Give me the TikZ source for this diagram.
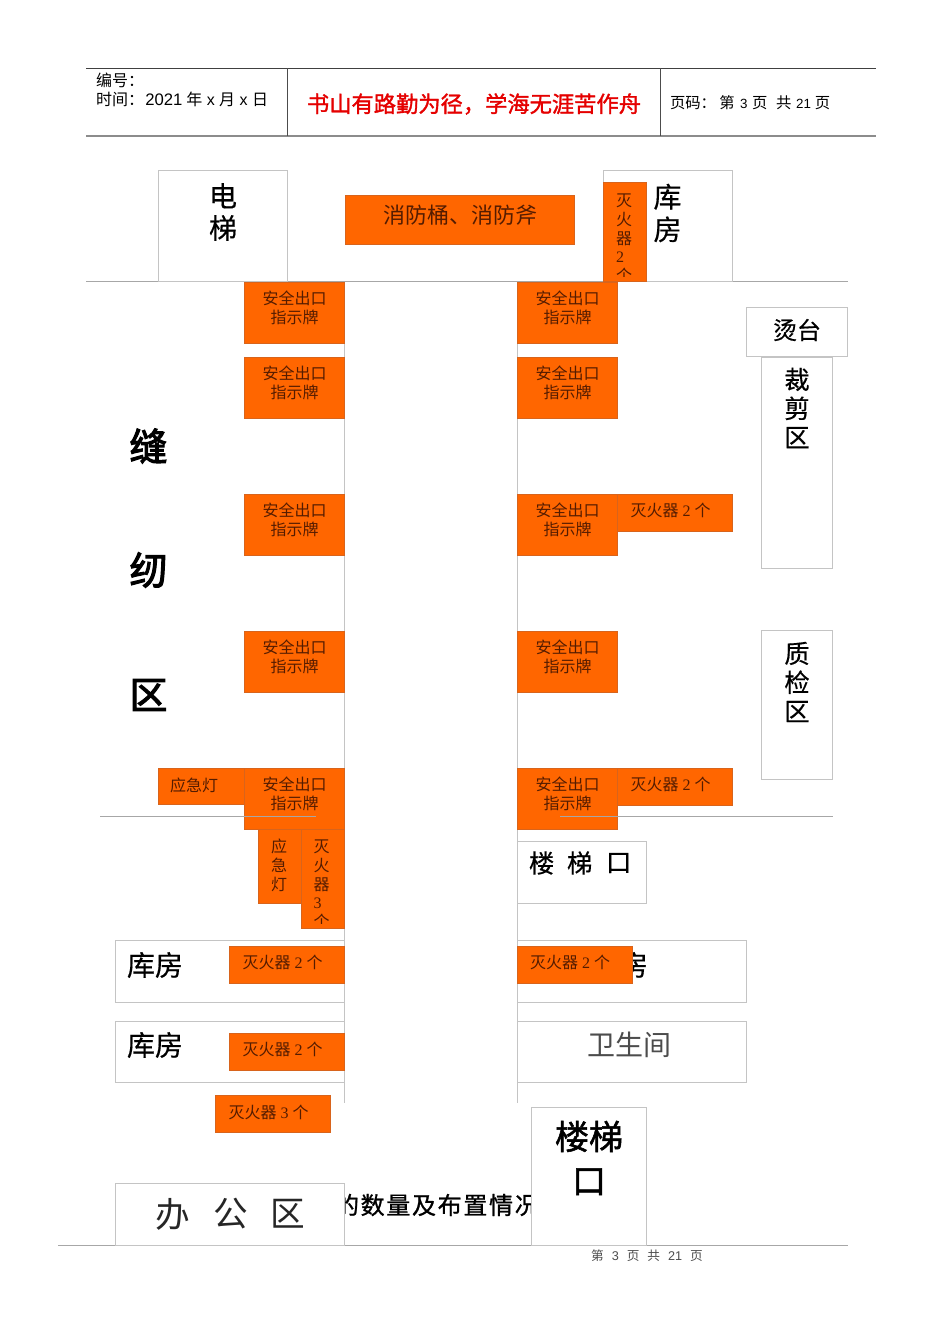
\documentclass[tikz,border=0pt]{standalone}
\usepackage{fontspec}
\setmainfont{Noto Sans CJK SC}
\newfontfamily\ser{Liberation Serif}
\newfontfamily\ari{Liberation Sans}
\newfontfamily\cjkb[FakeBold=1.5]{Noto Sans CJK SC}
\newfontfamily\cjkx[FakeBold=3]{Noto Sans CJK SC}
\newfontfamily\cjkm[FakeBold=0.5]{Noto Sans CJK SC}
\newfontfamily\cjkbs[FakeBold=1,LetterSpace=7]{Noto Sans CJK SC}
\newcommand\pxfont[2]{\fontsize{#1}{#2}\selectfont}
\definecolor{fireorange}{HTML}{FF6600}
\definecolor{orangeedge}{HTML}{D8641C}
\definecolor{boxgray}{HTML}{C4C4C4}
\definecolor{ontext}{HTML}{541C00}
\tikzset{
  x=0.75pt,y=-0.75pt,
  lbl/.style={inner sep=0pt,outer sep=0pt,align=center,text=black},
  onorange/.style={lbl,text=ontext,font=\pxfont{12}{14.2}},
  room/.style={draw=boxgray,fill=white,line width=0.7pt},
  sign/.style={draw=orangeedge,fill=fireorange,line width=0.5pt},
  rule/.style={draw=boxgray!85!black,line width=0.6pt},
  wall/.style={draw=boxgray,line width=0.75pt},
}
\newcommand\exit[3]{% name, left x, top y
  \draw[sign] (#2,#3) rectangle (#2+100.5,#3+61.5);
  \node[onorange] (#1) at (#2+50.5,#3+25.5) {安全出口\\指示牌};
}
\newcommand\extg[4]{% name, left, top, count
  \draw[sign] (#2,#3) rectangle (#2+115,#3+37);
  \node[onorange,anchor=west] (#1) at (#2+13,#3+16.5) {灭火器\hspace{3pt}{\ser #4}\hspace{3pt}个};
}
\begin{document}
\begin{tikzpicture}
\useasboundingbox (0,0) rectangle (950,1344);
\fill[white] (0,0) rectangle (950,1344);

% header
\draw[draw=black!75,line width=0.7pt] (86,68.5) -- (876,68.5);
\draw[draw=black!45,line width=1.1pt] (86,136) -- (876,136);
\draw[draw=black!70,line width=0.7pt] (287.5,68.5) -- (287.5,136);
\draw[draw=black!70,line width=0.7pt] (660.5,68.5) -- (660.5,136);
\node[lbl,anchor=west,font=\pxfont{12}{14.2}] (hno) at (96,80) {编号：};
\node[lbl,anchor=west,font=\pxfont{12}{14.2}] (htime) at (96,99) {时间：\hspace{1pt}{\ari\pxfont{12.5}{14}2021}\hspace{3pt}年\hspace{3.3pt}{\ari x}\hspace{3.3pt}月\hspace{3.3pt}{\ari x}\hspace{3.3pt}日};
\node[lbl,text=red!90!black,font={\cjkb\pxfont{16.7}{20}}] (htitle) at (474,104) {书山有路勤为径，学海无涯苦作舟};
\node[lbl,anchor=west,font=\pxfont{11.5}{14.2}] (hpage) at (670,103) {页码：\hspace{2.5pt}第\hspace{4pt}{\ari\pxfont{10}{12}3}\hspace{3.5pt}页\hspace{6.5pt}共\hspace{3.5pt}{\ari\pxfont{10}{12}21}\hspace{3pt}页};

% rules and corridor walls
\draw[rule] (86,281.5) -- (848,281.5);
\draw[rule] (58,1245) -- (848,1245);
\draw[wall] (344.5,282) -- (344.5,1103);
\draw[wall] (517.5,282) -- (517.5,1103);

% background sentence, partly hidden by the boxes
\node[lbl,anchor=west,font={\cjkbs\pxfont{18}{20}}] (sentence) at (335,1205) {的数量及布置情况};

% top rooms
\draw[room] (158,170) rectangle (287.5,281.5);
\node[lbl,font={\cjkm\pxfont{21}{24}}] (lift) at (223,212) {电\\梯};
\draw[sign] (345,195) rectangle (574.5,244.5);
\node[lbl,text=ontext,font=\pxfont{16.5}{20}] (bucket) at (460,215) {消防桶、消防斧};
\draw[room] (603,170) rectangle (732.5,281.5);
\node[lbl,font={\cjkm\pxfont{21}{24.5}}] (store1) at (667.5,213) {库\\房};
\draw[sign] (603.5,182) rectangle (646.5,281.5);
\begin{scope}
  \clip (603,182) rectangle (647,276.5);
  \node[onorange,align=left,text width=12pt,anchor=north west] (ext1) at (616,193.5) {灭\\火\\器\\{\ser 2}\\个};
\end{scope}

% exit signs left
\exit{exl1}{244}{282}
\exit{exl2}{244}{357}
\exit{exl3}{244}{494}
\exit{exl4}{244}{631}
\exit{exl5}{244}{768}
% exit signs right
\exit{exr1}{517}{282}
\exit{exr2}{517}{357}
\exit{exr3}{517}{494}
\exit{exr4}{517}{631}
\exit{exr5}{517}{768}

% right side rooms
\draw[room] (746.5,307.5) rectangle (847.5,356.5);
\node[lbl,font={\cjkm\pxfont{18}{22}}] (iron) at (797,330) {烫台};
\draw[room] (761.5,357) rectangle (832.5,568.5);
\node[lbl,font={\cjkm\pxfont{19}{21.7}}] (cut) at (797,408) {裁\\剪\\区};
\draw[room] (761.5,630.5) rectangle (832.5,779.5);
\node[lbl,font={\cjkm\pxfont{19}{21.7}}] (qc) at (797,682) {质\\检\\区};

\extg{ext2}{617.5}{494}{2}
\extg{ext3}{617.5}{768}{2}

% sewing area label
\node[lbl,font={\cjkx\pxfont{28.5}{32}}] (sew1) at (148.5,446) {缝};
\node[lbl,font={\cjkx\pxfont{28.5}{32}}] (sew2) at (148.5,570) {纫};
\node[lbl,font={\cjkx\pxfont{28.5}{32}}] (sew3) at (148.5,695) {区};

% emergency light and extinguishers
\draw[sign] (158,768) rectangle (244,804.5);
\node[onorange] (light1) at (194,785) {应急灯};
\draw[sign] (258.5,829) rectangle (301.5,903.5);
\node[onorange] (light2) at (279,865) {应\\急\\灯};
\draw[sign] (301.5,829) rectangle (344.5,928.5);
\begin{scope}
  \clip (301,829) rectangle (345,923.5);
  \node[onorange,align=left,text width=12pt,anchor=north west] (ext4) at (313.5,839.5) {灭\\火\\器\\{\ser 3}\\个};
\end{scope}

% mid rule drawn over signs
\draw[rule] (100,816.5) -- (316,816.5);
\draw[rule] (560,816.5) -- (833,816.5);

% stair label
\draw[room] (517.5,841.5) rectangle (646.5,903.5);
\node[lbl,anchor=west,font={\cjkm\pxfont{19}{22}}] (stair1a) at (529,863) {楼};
\node[lbl,anchor=west,font={\cjkm\pxfont{19}{22}}] (stair1b) at (567,863) {梯};
\node[lbl,anchor=west,font={\cjkm\pxfont{19}{22}}] (stair1c) at (606,863) {口};

% lower rooms
\draw[room] (115,940.5) rectangle (344.5,1002.5);
\node[lbl,anchor=west,font={\cjkm\pxfont{21}{24}}] (store2) at (127,965) {库房};
\extg{ext5}{229.5}{946}{2}
\draw[room] (517.5,940.5) rectangle (746.5,1002.5);
\node[lbl,anchor=west,font={\cjkm\pxfont{21}{24}}] (store3) at (592,965) {库房};
\extg{ext6}{517}{946}{2}

\draw[room] (115,1021) rectangle (344.5,1082.5);
\node[lbl,anchor=west,font={\cjkm\pxfont{21}{24}}] (store4) at (127,1045) {库房};
\extg{ext7}{229.5}{1033}{2}
\draw[room] (517.5,1021) rectangle (746.5,1082.5);
\node[lbl,text=black!70,font=\pxfont{21}{24}] (wc) at (629,1045) {卫生间};

\extg{ext8}{215.5}{1095.5}{3}

% bottom rooms
\draw[room] (115,1183) rectangle (344.5,1245);
\node[lbl,text=black!85,font=\pxfont{26}{30}] (off1) at (173,1214) {办};
\node[lbl,text=black!85,font=\pxfont{26}{30}] (off2) at (231,1214) {公};
\node[lbl,text=black!85,font=\pxfont{26}{30}] (off3) at (288,1214) {区};
\draw[room] (531.5,1107.5) rectangle (646.5,1245);
\node[lbl,font={\cjkb\pxfont{25.5}{33}}] (stair2) at (589,1158) {楼梯\\口};

% footer
\node[lbl,text=black!70,font=\pxfont{9.5}{12}] (foot) at (647,1256) {第\hspace{6pt}{\ari 3}\hspace{6pt}页\hspace{6pt}共\hspace{6pt}{\ari 21}\hspace{6pt}页};
\end{tikzpicture}
\end{document}
